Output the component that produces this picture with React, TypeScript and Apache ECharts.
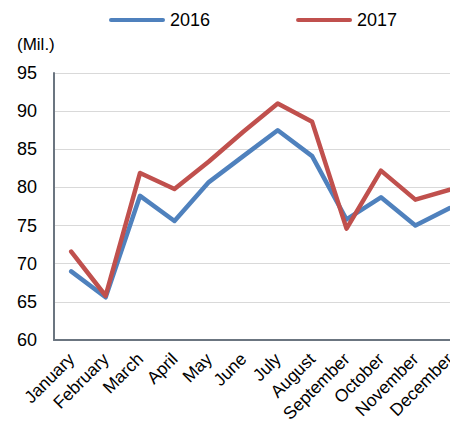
import React, { useEffect, useRef } from "react";
import * as echarts from "echarts";

const months = [
  "January", "February", "March", "April", "May", "June",
  "July", "August", "September", "October", "November", "December",
];
const values2016 = [69.0, 65.6, 78.9, 75.6, 80.7, 84.1, 87.5, 84.1, 75.8, 78.7, 75.0, 77.3];
const values2017 = [71.6, 65.8, 81.9, 79.8, 83.4, 87.3, 91.0, 88.6, 74.6, 82.2, 78.4, 79.7];
const yMin = 60;
const yMax = 95;
const yStep = 5;
const unitLabel = "(Mil.)";

const FONT = "'Liberation Sans', Arial, sans-serif";
const CAPSULE = "path://M2,0 L54,0 A2,2 0 0 1 54,4 L2,4 A2,2 0 0 1 2,0 Z";

export default function App() {
  const ref = useRef<HTMLDivElement>(null);
  useEffect(() => {
    if (!ref.current) return;
    const chart = echarts.init(ref.current, null, { renderer: "svg" });
    chart.setOption({
      animation: false,
      backgroundColor: "#ffffff",
      textStyle: { fontFamily: FONT },
      legend: {
        left: 104,
        top: 6,
        itemWidth: 56,
        itemHeight: 4,
        itemGap: 86,
        icon: CAPSULE,
        textStyle: { fontSize: 18, color: "#000", fontFamily: FONT },
        data: ["2016", "2017"],
      },
      graphic: [
        {
          type: "text",
          left: 17,
          top: 36,
          style: { text: unitLabel, fontSize: 17, fill: "#000", fontFamily: FONT },
        },
      ],
      grid: { left: 54, top: 73, bottom: 85, right: 0, outerBoundsMode: "none" },
      xAxis: {
        type: "category",
        data: months,
        boundaryGap: true,
        axisLine: { show: true, lineStyle: { color: "#6b7580", width: 2 } },
        axisTick: { show: false },
        axisLabel: {
          rotate: 45,
          margin: 16,
          interval: 0,
          fontSize: 17.5,
          color: "#000",
          fontFamily: FONT,
        },
      },
      yAxis: {
        type: "value",
        min: yMin,
        max: yMax,
        interval: yStep,
        axisLine: { show: true, lineStyle: { color: "#6b7580", width: 2 } },
        axisTick: { show: false },
        splitLine: { lineStyle: { color: "#d9d9d9", width: 1 } },
        axisLabel: { margin: 17, fontSize: 18, color: "#000", fontFamily: FONT },
      },
      series: [
        {
          name: "2016",
          type: "line",
          data: values2016,
          showSymbol: false,
          symbol: "none",
          lineStyle: { color: "#4F81BD", width: 4.5, cap: "round", join: "round" },
          itemStyle: { color: "#4F81BD" },
        },
        {
          name: "2017",
          type: "line",
          data: values2017,
          showSymbol: false,
          symbol: "none",
          lineStyle: { color: "#C0504D", width: 4.5, cap: "round", join: "round" },
          itemStyle: { color: "#C0504D" },
        },
      ],
    });
    return () => chart.dispose();
  }, []);
  return (
    <div
      style={{
        position: "fixed",
        left: 0,
        top: 0,
        width: 450,
        height: 425,
        overflow: "hidden",
        background: "#fff",
      }}
    >
      <div ref={ref} style={{ width: 467, height: 425 }} />
    </div>
  );
}
